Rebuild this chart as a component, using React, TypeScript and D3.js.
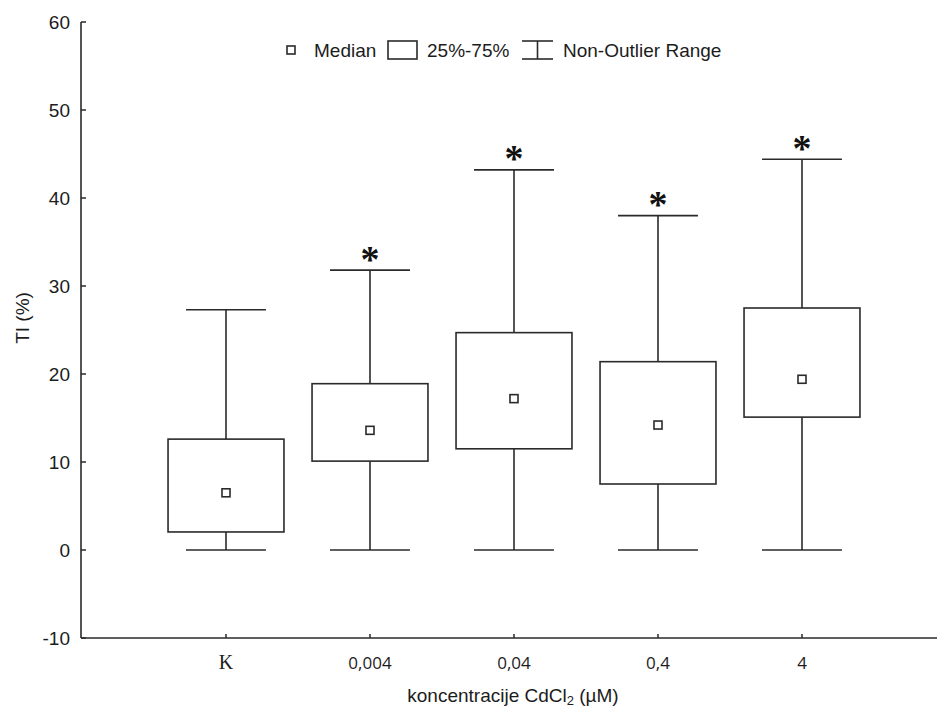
import React from "react";
import * as d3 from "d3";

const categories = ["K", "0,004", "0,04", "0,4", "4"];
const whiskerLow = [0, 0, 0, 0, 0];
const quartile1 = [2.05, 10.1, 11.5, 7.5, 15.1];
const medians = [6.5, 13.6, 17.2, 14.2, 19.4];
const quartile3 = [12.6, 18.9, 24.7, 21.4, 27.5];
const whiskerHigh = [27.3, 31.8, 43.2, 38.0, 44.4];
const significant = [false, true, true, true, true];
const yTicks = [-10, 0, 10, 20, 30, 40, 50, 60];
const legendLabels = ["Median", "25%-75%", "Non-Outlier Range"];

const W = 937;
const H = 710;
const axisX = 81;
const axisY = 638;
const stroke = "#2a2a2a";
const textColor = "#1c1c1c";
const sans = "'Liberation Sans', Arial, sans-serif";

export default function App() {
  const y = d3.scaleLinear().domain([-10, 60]).range([638, 22]);
  const x = d3.scaleBand<string>().domain(categories).range([154, 874]).padding(0);
  const step = x.step();
  const boxW = step * 0.805;
  const capW = step * 0.555;

  return (
    <svg
      width={W}
      height={H}
      style={{ position: "absolute", left: 0, top: 0, background: "#fff" }}
      xmlns="http://www.w3.org/2000/svg"
    >
      <rect x={0} y={0} width={W} height={H} fill="#fff" />
      {/* axes */}
      <line x1={axisX} y1={y(60)} x2={axisX} y2={axisY} stroke={stroke} strokeWidth={1.6} />
      <line x1={axisX} y1={axisY} x2={W} y2={axisY} stroke={stroke} strokeWidth={1.6} />
      {yTicks.map((t) => (
        <g key={t}>
          <line x1={axisX} x2={axisX + 5} y1={y(t)} y2={y(t)} stroke={stroke} strokeWidth={1.5} />
          <text
            x={70}
            y={y(t)}
            dy="0.36em"
            textAnchor="end"
            fontFamily={sans}
            fontSize={19}
            fill={textColor}
          >
            {t}
          </text>
        </g>
      ))}
      {categories.map((c, i) => {
        const cx = (x(c) as number) + step / 2;
        return (
          <g key={c}>
            <line x1={cx} x2={cx} y1={axisY} y2={axisY - 4} stroke={stroke} strokeWidth={1.5} />
            <text
              x={cx}
              y={669}
              textAnchor="middle"
              fontFamily={i === 0 ? "'Liberation Serif', serif" : "'Open Sans', sans-serif"}
              fontSize={i === 0 ? 20 : 17}
              fill={textColor}
            >
              {c}
            </text>
          </g>
        );
      })}
      {/* axis titles */}
      <text
        x={513}
        y={702}
        textAnchor="middle"
        fontFamily={sans}
        fontSize={19}
        fill={textColor}
      >
        koncentracije CdCl
        <tspan fontSize={13} dy={3}>2</tspan>
        <tspan dy={-3}> (µM)</tspan>
      </text>
      <text
        transform={`translate(29,${318}) rotate(-90)`}
        textAnchor="middle"
        fontFamily={sans}
        fontSize={19}
        fill={textColor}
      >
        TI (%)
      </text>
      {/* boxes */}
      {categories.map((c, i) => {
        const cx = (x(c) as number) + step / 2;
        return (
          <g key={"b" + c}>
            <line x1={cx} x2={cx} y1={y(whiskerHigh[i])} y2={y(quartile3[i])} stroke={stroke} strokeWidth={1.6} />
            <line x1={cx} x2={cx} y1={y(quartile1[i])} y2={y(whiskerLow[i])} stroke={stroke} strokeWidth={1.6} />
            <line x1={cx - capW / 2} x2={cx + capW / 2} y1={y(whiskerHigh[i])} y2={y(whiskerHigh[i])} stroke={stroke} strokeWidth={1.6} />
            <line x1={cx - capW / 2} x2={cx + capW / 2} y1={y(whiskerLow[i])} y2={y(whiskerLow[i])} stroke={stroke} strokeWidth={1.6} />
            <rect
              x={cx - boxW / 2}
              y={y(quartile3[i])}
              width={boxW}
              height={y(quartile1[i]) - y(quartile3[i])}
              fill="#fff"
              stroke={stroke}
              strokeWidth={1.6}
            />
            <rect x={cx - 4} y={y(medians[i]) - 4} width={8} height={8} fill="#fff" stroke={stroke} strokeWidth={1.6} />
            {significant[i] && (
              <text
                x={cx}
                y={y(whiskerHigh[i]) + 1.5}
                textAnchor="middle"
                fontFamily="'Liberation Serif', serif"
                fontWeight="bold"
                fontSize={38}
                fill="#111"
              >
                *
              </text>
            )}
          </g>
        );
      })}
      {/* legend */}
      <rect x={287} y={46} width={8} height={8} fill="#fff" stroke={stroke} strokeWidth={1.6} />
      <text x={314} y={57} fontFamily={sans} fontSize={19} fill={textColor}>{legendLabels[0]}</text>
      <rect x={388} y={41} width={29} height={18} fill="#fff" stroke={stroke} strokeWidth={1.6} />
      <text x={427} y={57} fontFamily={sans} fontSize={19} fill={textColor}>{legendLabels[1]}</text>
      <line x1={522} x2={553} y1={41} y2={41} stroke={stroke} strokeWidth={1.6} />
      <line x1={522} x2={553} y1={59} y2={59} stroke={stroke} strokeWidth={1.6} />
      <line x1={537.5} x2={537.5} y1={41} y2={59} stroke={stroke} strokeWidth={1.6} />
      <text x={563} y={57} fontFamily={sans} fontSize={19} fill={textColor}>{legendLabels[2]}</text>
    </svg>
  );
}
